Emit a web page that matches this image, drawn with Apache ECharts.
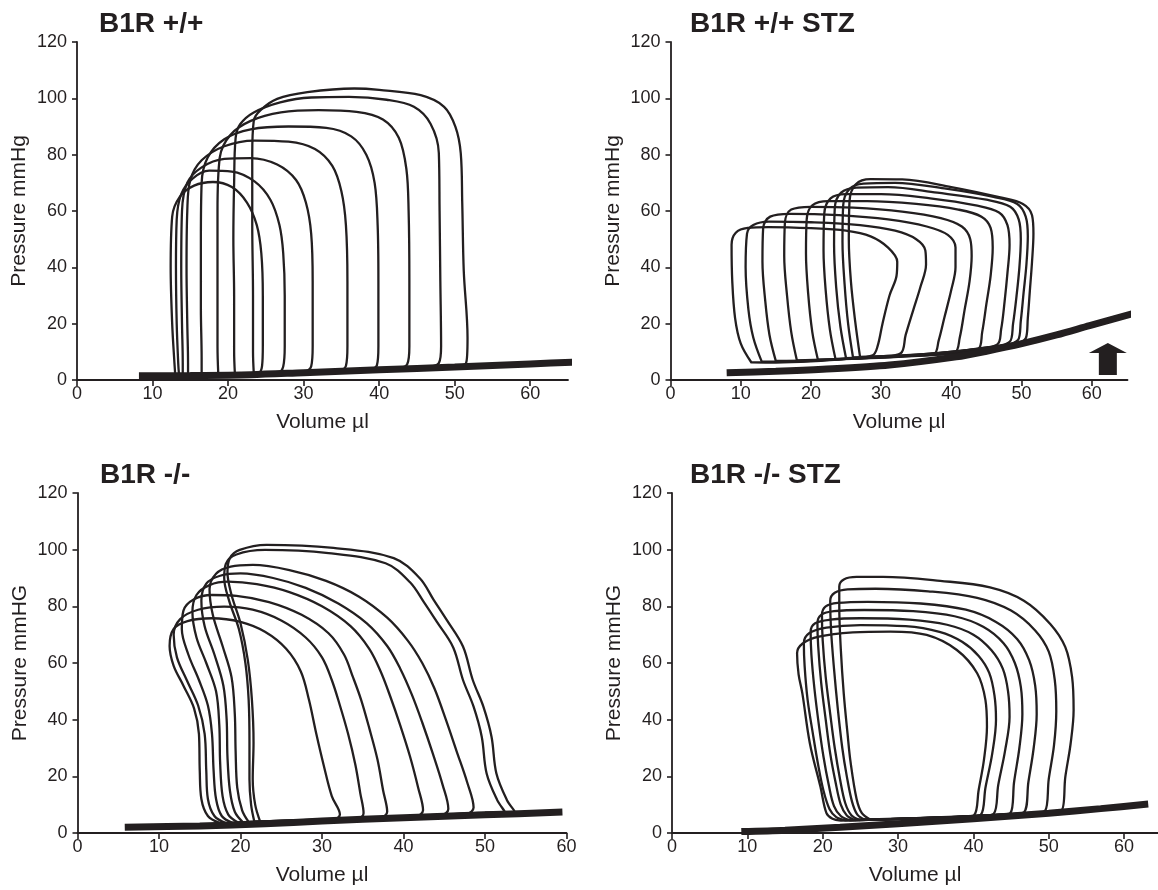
<!DOCTYPE html>
<html>
<head>
<meta charset="utf-8">
<script src="https://cdn.jsdelivr.net/npm/echarts@6/dist/echarts.min.js"></script>
<style>
  html, body { margin: 0; padding: 0; background: #fff; }
  #chart { width: 1158px; height: 890px; }
</style>
</head>
<body>
<div id="chart"></div>
<script>
const xTicks = [0, 10, 20, 30, 40, 50, 60]
const yTicks = [0, 20, 40, 60, 80, 100, 120]
const panelTitles = ['B1R +/+', 'B1R +/+ STZ', 'B1R -/-', 'B1R -/- STZ']
const yNames = ['Pressure mmHg', 'Pressure mmHg', 'Pressure mmHG', 'Pressure mmHG']
const xName = 'Volume µl'

// thick end-diastolic lines
const wtBase = [[8.2,1.5],[15,1.6],[23,1.9],[30,2.6],[40,3.6],[50,4.6],[60,5.7],[66.3,6.4]]
const wtStzBase = [[8,2.6],[15,3.1],[21.7,3.8],[31.2,5.3],[40.7,8.2],[45,10.2],[50.2,13],[55,16],[59.7,19.3],[66.5,24]]
const koBase = [[5.8,2],[15,2.5],[23,3.3],[30,4.2],[40,5.4],[50,6.4],[59.5,7.4]]
const koStzBase = [[9.2,0.5],[15,1.0],[22.3,2.0],[30,3.3],[40,5.0],[50,7.0],[56.9,8.6],[63.2,10.2]]

// pressure-volume loops, one array per loop
const wtLoops = [
  [[23.4,2.5],[30,3.0],[40,3.9],[48,4.7],[51.5,6],[51.7,15],[51.2,38.8],[51.0,62.8],[50.8,80.6],[50.1,89.9],[48.6,97],[45.5,101.1],[40,103],[36.7,103.5],[30.5,102.2],[26.5,99.8],[24.3,95.8],[23.4,92],[23.2,80],[23.2,55],[23.3,30],[23.3,10],[23.4,2.5]],
  [[20.9,2.3],[28,2.7],[38,3.7],[46,4.5],[47.9,6],[48.2,12],[48.1,35],[48.0,60],[47.9,80.6],[46.8,91],[44.6,97],[41,99.5],[36,100.5],[31,100.3],[26.9,98.6],[23.4,95],[21.6,90.8],[21.0,86],[20.8,70],[20.7,50],[20.8,30],[20.8,10],[20.9,2.3]],
  [[18.7,2.2],[25,2.4],[35,3.3],[42,4.0],[43.7,5.5],[44.0,12],[44.0,35],[43.9,60],[43.6,75],[42.6,86],[40.5,92.5],[37,95.2],[32,95.8],[27,95],[23,92],[20.3,87],[18.9,79],[18.6,60],[18.6,35],[18.6,12],[18.7,2.2]],
  [[16.5,2],[23,2.2],[32,3.0],[38.5,3.6],[39.7,5.2],[39.9,12],[39.9,35],[39.8,55],[39.4,70],[38.3,80],[36.3,86.5],[33,89.5],[28,90],[23,89],[19.5,85.5],[17.3,79],[16.5,70],[16.4,50],[16.4,25],[16.5,8],[16.5,2]],
  [[14.7,2],[20,2.0],[28,2.6],[34.5,3.2],[35.6,5],[35.8,12],[35.8,35],[35.6,55],[35.0,67],[33.8,76],[31.5,82],[28,84.6],[23.5,85],[19.5,83],[16.5,78],[15,71],[14.6,60],[14.5,40],[14.6,20],[14.7,6],[14.7,2]],
  [[14,2],[19,1.9],[25,2.2],[30,2.8],[31,4.8],[31.2,12],[31.2,35],[31.0,52],[30.3,63],[29,71],[26.5,76.5],[23,78.8],[19.5,78.5],[16.5,75.5],[14.6,70],[13.9,60],[13.8,40],[13.9,20],[14.0,6],[14,2]],
  [[13.5,2],[18,1.9],[23,2.1],[26.6,2.6],[27.3,4.8],[27.5,12],[27.5,30],[27.3,45],[26.8,55],[25.6,64],[23.5,70.5],[20.5,74],[17.5,74.3],[15.3,71.5],[13.8,66],[13.2,57],[13.1,40],[13.2,20],[13.4,6],[13.5,2]],
  [[13,2],[17,1.9],[21,2.0],[24,2.4],[24.5,5],[24.6,12],[24.6,30],[24.4,45],[23.8,55],[22.5,63],[20.5,68.5],[18,70.3],[15.5,69],[13.6,65],[12.6,58],[12.4,40],[12.6,20],[12.9,6],[13,2]]
]

const wtStzLoops = [
  [[11.5,6.3],[15,6.2],[20,6.6],[25,7.5],[28.8,8.8],[29.5,12],[30.2,20],[31.2,30],[32.2,37],[32.3,42],[31,47],[28.5,51],[25,53],[20,53.9],[14,54.3],[11,54],[9.3,52.3],[8.7,48],[8.8,35],[9.2,22],[10,13],[11.5,6.3]],
  [[13,6.5],[18,6.6],[24,7.4],[30,8.4],[32.8,9.5],[33.5,16],[34.6,25],[35.6,33],[36.4,41],[36.3,46],[35,50],[32,53],[27,55],[20,56],[14,56.2],[11.8,55],[10.9,52],[10.7,40],[11.1,25],[11.8,15],[13,6.5]],
  [[15,6.8],[20,7],[26,7.6],[32,8.4],[37.5,9.2],[38.2,14],[39,22],[40,32],[40.6,40],[40.6,47],[39.5,51.5],[36.5,54.5],[31,57],[24,58.5],[17,59],[14.2,58],[13.2,54],[13.1,42],[13.5,28],[14.1,16],[15,6.8]],
  [[18,7],[24,7.4],[30,8],[36,8.8],[40.5,9.8],[41.2,15],[41.9,25],[42.6,35],[42.9,44],[42.7,50],[41.5,54.5],[38.5,57.5],[33,59.8],[26,61.2],[20,61.5],[17.2,60.5],[16.3,56],[16.2,44],[16.6,30],[17.2,17],[18,7]],
  [[21,7.2],[27,7.6],[33,8.3],[39,9.2],[43.8,10.8],[44.4,17],[45,27],[45.6,37],[45.9,47],[45.6,54],[44.3,58],[41,60.5],[35,62.5],[28,63.5],[22.5,63.5],[20.2,62],[19.4,57],[19.3,45],[19.6,31],[20.2,17],[21,7.2]],
  [[23.5,7.5],[29,8],[35,8.8],[41,10],[46.5,12.5],[47.1,18],[47.6,28],[48,38],[48.3,48],[48,55],[46.8,59.5],[43.5,62],[37,64.5],[30,66],[25,66],[22.8,64.5],[21.9,59],[21.8,46],[22.1,32],[22.7,18],[23.5,7.5]],
  [[25,7.8],[31,8.3],[37,9.2],[43,10.8],[48.3,13.5],[48.8,20],[49.3,30],[49.7,40],[49.9,50],[49.6,57],[48.4,61.5],[45,64],[38,66.5],[31,68.5],[26.5,68.3],[24.3,66.5],[23.4,61],[23.3,48],[23.6,33],[24.2,19],[25,7.8]],
  [[26,8],[32,8.5],[38,9.5],[44,11.2],[49.5,14.2],[49.9,21],[50.3,31],[50.7,41],[50.9,51],[50.6,58],[49.4,62.5],[46,65],[39,68],[32,70],[27.5,69.7],[25.5,67.8],[24.6,62],[24.5,49],[24.8,34],[25.3,20],[26,8]],
  [[27,8.2],[33,8.7],[39,9.8],[45,11.5],[50.6,14.8],[50.9,22],[51.2,32],[51.5,42],[51.7,52],[51.5,58.5],[50.2,62.5],[47,64.8],[40,68.5],[33,71.2],[28.5,71.3],[26.4,69.5],[25.5,63.5],[25.4,50],[25.7,35],[26.3,21],[27,8.2]]
]

const koLoops = [
  [[17.5,3.5],[22,3.6],[27,4.1],[31.5,4.8],[32.2,6.5],[31.2,13],[30.2,24],[29.3,35],[28.4,47],[27.4,57],[25.6,65],[23,71],[20,74.5],[16.5,75.8],[13.5,74.8],[11.8,72],[11.3,66],[11.8,59],[13,52],[14.3,44],[14.9,35],[15,22],[15.2,12],[16,6],[17.5,3.5]],
  [[18.2,3.5],[24,3.8],[30,4.4],[34.4,5],[35.1,7],[34.7,14],[34.1,24],[33.2,35],[32.2,45],[31.2,54],[30,62],[28,69],[25,75],[21.5,78.8],[18,79.9],[14.8,78.8],[12.6,75.5],[11.8,70],[12.2,62],[13.4,54],[14.8,45],[15.6,35],[15.8,22],[16,12],[16.8,6],[18.2,3.5]],
  [[19,3.6],[25,4],[31,4.6],[37.2,5.4],[38,7.5],[37.5,15],[36.8,26],[35.8,37],[34.8,47],[33.8,55],[32.7,63],[30.8,70.5],[27.5,77],[23.5,81.5],[19.5,83.7],[16.5,84],[14.3,82.5],[13,78.5],[12.8,72],[13.6,63],[14.9,54],[16,45],[16.5,35],[16.7,22],[17,12],[17.7,6],[19,3.6]],
  [[19.7,3.7],[26,4.1],[33,4.9],[41.5,5.8],[42.4,8],[41.8,16],[40.8,27],[39.6,38],[38.4,48],[37.2,57],[35.8,65],[33.5,73],[30,80],[26,85],[22,87.8],[18.5,88.7],[16.2,87.5],[14.6,84],[14.1,78],[14.6,69],[15.8,60],[17,50],[17.4,38],[17.5,25],[17.8,13],[18.5,6.5],[19.7,3.7]],
  [[20.3,3.8],[28,4.3],[36,5.2],[44.7,6.3],[45.5,8.5],[44.8,17],[43.6,28],[42.3,39],[41,49],[39.6,58],[38,66],[35.5,74],[32,81],[28,86.5],[24,90],[20,91.6],[17.5,90.8],[15.8,88],[15.2,82],[15.6,73],[16.8,63],[17.9,52],[18.3,40],[18.4,27],[18.7,15],[19.3,7.5],[20.3,3.8]],
  [[21,3.9],[29,4.5],[38,5.5],[47.8,6.8],[48.6,9],[47.8,18],[46.5,29],[45.2,40],[43.8,51],[42.3,60],[40.5,68],[38,76],[34.5,83.5],[30.5,89],[26,92.8],[21.5,94.6],[18.8,94],[17,91.5],[16.2,86],[16.6,77],[17.8,66],[18.9,55],[19.3,42],[19.4,29],[19.6,16],[20.2,8],[21,3.9]],
  [[21.7,4],[30,4.7],[40,5.8],[49,7],[52.4,7.6],[51.5,11.6],[50.2,21],[49.6,34],[48.6,44.6],[47.3,54],[46.1,65.5],[44.1,74.5],[42.5,81.5],[40.8,88.5],[37.8,95.2],[30.8,98.8],[23,99.9],[19.5,98.3],[18.2,95],[18,90],[18.6,82],[19.8,72],[20.6,60],[21,47],[21.1,32],[21.1,19],[21.3,10],[21.7,4]],
  [[22.4,4.1],[31,4.8],[41,6],[50,7.2],[53.6,7.8],[52.7,11.6],[51.4,21],[50.8,34],[49.8,44.6],[48.5,54],[47.3,65.8],[45.3,75.2],[43.7,82.3],[42,89.9],[38.8,97],[31.4,100.6],[23.2,101.7],[19.9,99.9],[18.7,97],[18.4,92],[18.9,84],[20,74],[20.9,61],[21.4,47],[21.6,32],[21.5,19],[21.8,10],[22.4,4.1]]
]

const koStzLoops = [
  [[26.3,4.8],[32,5.2],[40,6],[48,7.2],[51.7,8],[52.2,19.8],[52.9,31.5],[53.3,43.3],[53.1,55],[52.2,65.6],[50.2,73.8],[46.7,82],[42.2,86.7],[35.6,89],[28,90.4],[24.5,90.4],[22.8,89.5],[22.2,87],[22.2,80],[22.4,65],[22.8,49],[23.3,35],[23.7,25],[24.5,12],[25.2,7],[26.3,4.8]],
  [[25.6,4.7],[32,5.1],[40,5.9],[47,6.9],[49.5,7.8],[50,19],[50.7,31],[51,43],[50.8,54],[50,64],[48.2,71.5],[45,78.5],[40.5,83],[34,85.3],[27,86.2],[23.3,86],[21.6,84.8],[21,82],[21.1,72],[21.5,58],[22,44],[22.6,30],[23.2,20],[23.9,11],[24.6,6.5],[25.6,4.7]],
  [[24.9,4.6],[31,5],[38,5.7],[44.5,6.6],[46.7,7.3],[47.3,18],[48,30],[48.4,42],[48.2,52],[47.4,61],[45.8,68.5],[43,74.5],[39,78.8],[33,81],[26,81.6],[22,81.2],[20.4,80],[19.9,77],[20,68],[20.4,55],[21,42],[21.6,30],[22.3,19],[23,10.5],[23.8,6.3],[24.9,4.6]],
  [[24.3,4.6],[30,5],[37,5.6],[43,6.4],[44.9,7],[45.4,18],[46.1,30],[46.5,42],[46.3,51.5],[45.5,60],[44,67],[41.3,72.8],[37.5,76.5],[32,78.3],[25.5,78.7],[21.5,78.3],[19.8,77],[19.3,74],[19.4,66],[19.8,53],[20.4,40],[21,28],[21.7,18],[22.4,10],[23.2,6.2],[24.3,4.6]],
  [[23.6,4.5],[29,4.9],[35,5.4],[41,6.1],[42.7,6.8],[43.3,17],[44.2,29],[44.8,41],[44.6,50],[43.9,58],[42.4,64.5],[40,70],[36.5,73.5],[31.5,75.3],[25,75.8],[21,75.3],[19,74],[18.4,71],[18.5,63],[18.9,51],[19.5,38],[20.1,27],[20.8,17],[21.5,9.5],[22.4,6],[23.6,4.5]],
  [[23,4.5],[28,4.8],[34,5.3],[39.5,5.9],[41,6.5],[41.6,16],[42.5,28],[43,40],[42.8,48.5],[42.1,56.5],[40.7,62.5],[38.5,67.5],[35.5,71],[31,73],[25,73.4],[20.5,72.5],[18.2,70.5],[17.5,67],[17.6,59],[18,47],[18.7,35],[19.4,24],[20.1,15],[20.9,8.5],[21.8,5.6],[23,4.5]],
  [[22.4,4.4],[27,4.7],[33,5.2],[38.5,5.7],[40.1,6.3],[40.7,15.2],[41.4,25.8],[41.8,37.5],[41.6,46.9],[40.5,56.4],[37.8,64.6],[33.8,69.9],[29,71.1],[24,70.8],[19.5,69.3],[17.3,66.8],[16.6,63.4],[16.8,56],[17.3,49.3],[18.3,31.6],[19.7,16.3],[20.5,7],[21.3,5],[22.4,4.4]]
]

// the arrow in the STZ panel
const stzArrow = [[62.3, 7.5]]

const ink = '#231f20'
const font = '"Liberation Sans", Arial, sans-serif'

const panels = [
    {title: panelTitles[0], titlePos: [99, 10], grid: {left: 77, top: 42, width: 491, height: 338}, xMax: 65, loops: wtLoops, base: wtBase},
    {title: panelTitles[1], titlePos: [690, 10], grid: {left: 670.5, top: 42, width: 457, height: 338}, xMax: 65.1, loops: wtStzLoops, base: wtStzBase},
    {title: panelTitles[2], titlePos: [100, 461], grid: {left: 77.5, top: 493, width: 489, height: 340}, xMax: 60, loops: koLoops, base: koBase},
    {title: panelTitles[3], titlePos: [690, 461], grid: {left: 672, top: 493, width: 486, height: 340}, xMax: 64.5, loops: koStzLoops, base: koStzBase},
]

const option = {
    animation: false,
    backgroundColor: '#fff',
    title: panels.map(p => ({
        text: p.title, left: p.titlePos[0], top: p.titlePos[1], padding: 0,
        textStyle: {fontFamily: font, fontSize: 28, fontWeight: 'bold', color: ink}
    })),
    grid: panels.map(p => Object.assign({outerBoundsMode: 'none', containLabel: false}, p.grid)),
    xAxis: panels.map((p, i) => ({
        gridIndex: i, type: 'value', min: 0, max: p.xMax, interval: 10,
        name: xName, nameLocation: 'middle', nameGap: 32,
        nameTextStyle: {fontFamily: font, fontSize: 21, color: ink},
        axisLine: {show: true, onZero: false, lineStyle: {color: ink, width: 1.8}},
        axisTick: {show: true, length: 6, customValues: xTicks, lineStyle: {color: ink, width: 1.6}},
        axisLabel: {fontFamily: font, fontSize: 18, color: ink, margin: 5, customValues: xTicks},
        splitLine: {show: false}
    })),
    yAxis: panels.map((p, i) => ({
        gridIndex: i, type: 'value', min: 0, max: 120, interval: 20,
        name: yNames[i], nameLocation: 'middle', nameGap: 47,
        nameTextStyle: {fontFamily: font, fontSize: 21, color: ink},
        axisLine: {show: true, onZero: false, lineStyle: {color: ink, width: 1.8}},
        axisTick: {show: true, length: 5, customValues: yTicks, lineStyle: {color: ink, width: 1.6}},
        axisLabel: {fontFamily: font, fontSize: 18, color: ink, margin: 10, customValues: yTicks},
        splitLine: {show: false}
    })),
    series: []
}

panels.forEach((p, i) => {
    p.loops.forEach((loop, k) => {
        option.series.push({
            name: `loop_${i}_${k}`, type: 'line', xAxisIndex: i, yAxisIndex: i,
            data: loop, smooth: 0.35, symbol: 'none', silent: true,
            lineStyle: {color: ink, width: 2.3, join: 'round', cap: 'round'}
        })
    })
    // the thick line runs a little past the end of the axis in the source
    option.series.push({
        name: `base_${i}`, type: 'line', xAxisIndex: i, yAxisIndex: i,
        data: p.base, smooth: 0.3, symbol: 'none', silent: true, clip: false,
        lineStyle: {color: ink, width: 7}
    })
})

option.series.push({
    name: 'arrow', type: 'scatter', xAxisIndex: 1, yAxisIndex: 1,
    data: stzArrow, silent: true, clip: false,
    symbol: 'path://M19,0 L38,10 L28,10 L28,32 L10,32 L10,10 L0,10 Z',
    symbolSize: [38, 32],
    itemStyle: {color: ink, opacity: 1}
})

const chart = echarts.init(document.getElementById('chart'))
chart.setOption(option)
</script>
</body>
</html>
